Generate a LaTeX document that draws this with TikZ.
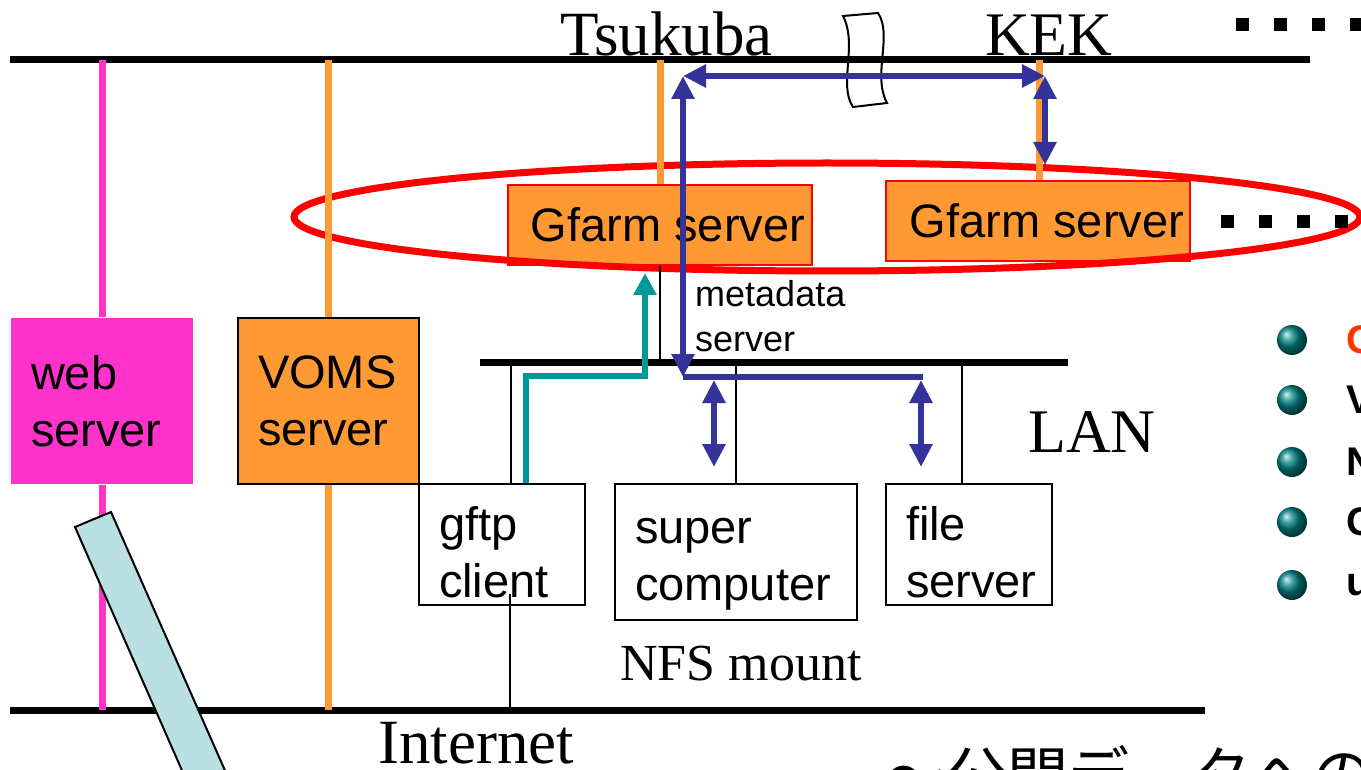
\documentclass[tikz,border=0pt]{standalone}
\usepackage{fontspec}
\setmainfont{Liberation Serif}
\setsansfont{Liberation Sans}
\newfontfamily\jpfont{Noto Sans CJK JP}
\usetikzlibrary{arrows.meta,positioning}
\definecolor{webpink}{HTML}{FF33CC}
\definecolor{vomsorange}{HTML}{FF9933}
\definecolor{gfblue}{HTML}{333399}
\definecolor{gfteal}{HTML}{009999}
\definecolor{barcyan}{HTML}{BBE0E3}
\definecolor{bulred}{HTML}{FF3300}
\newcommand{\boxfont}{\sffamily\fontsize{47}{57}\selectfont}
\newcommand{\serifsize}[1]{\rmfamily\fontsize{#1}{#1}\selectfont}

\begin{document}
\begin{tikzpicture}[x=1pt,y=-1pt,
		bus/.style={line width=7pt},
		drop/.style={line width=2.5pt},
		pinkln/.style={webpink,line width=7pt},
		orln/.style={vomsorange,line width=7pt},
		blln/.style={gfblue,line width=6pt},
		blarr/.style={blln,>={Triangle[length=23pt,width=22pt]},<->},
		tlarr/.style={gfteal,line width=6pt,>={Triangle[length=22pt,width=22pt]},->},
		host/.style={draw,line width=2pt,fill=white,align=left,inner xsep=20pt,inner ysep=0pt,anchor=north west,font=\boxfont},
		lowbox/.style={execute at begin node={\rule{0pt}{50pt}}},
		gfarm/.style={draw=red,line width=1.2pt,fill=vomsorange,minimum width=304pt,minimum height=80pt,inner sep=0pt,font=\boxfont},
		lbl/.style={inner sep=0pt,anchor=base west},
		bul/.style={inner sep=0pt,anchor=west,font=\sffamily\bfseries\fontsize{40}{40}\selectfont}]
		\path[use as bounding box] (0,0) rectangle (1361,770);
		\clip (0,0) rectangle (1361,770);

		\coordinate (topL) at (10,60);
		\coordinate (topR) at (1310,60);
		\coordinate (netL) at (10,710);
		\coordinate (netR) at (1205,710);
		\coordinate (lanL) at (480,362);
		\coordinate (lanR) at (1068,362);
		\draw[bus] (topL) -- (topR);
		\draw[bus] (netL) -- (netR);
		\draw[bus] (lanL) -- (lanR);

		\node[host,draw=none,fill=webpink,text width=142pt,minimum height=166pt] (web) at (10,317) {web\\server};
		\node[host,fill=vomsorange,text width=141pt,minimum height=166pt] (voms) at (237,317) {VOMS\\server};
		\node[gfarm] (gsT) at (660,225) {\hspace*{16pt}Gfarm server};
		\node[gfarm] (gsK) at (1038,221) {\hspace*{18pt}Gfarm server};
		\node[host,lowbox,text width=126pt,minimum height=121pt] (gftp) at (418,483) {gftp\\client};
		\node[host,lowbox,text width=202pt,minimum height=136pt] (sc) [right=28pt of gftp.north east,anchor=north west] {super\\computer};
		\node[host,lowbox,text width=126pt,minimum height=121pt] (fs) [right=27pt of sc.north east,anchor=north west] {file\\server};

		\draw[red,line width=7pt] (827,217) ellipse [x radius=533pt,y radius=54pt];

		\draw[pinkln] (web.north) -- (web.north |- topL);
		\draw[pinkln] (web.south) -- (web.south |- netL);
		\draw[orln] (voms.north) -- (voms.north |- topL);
		\draw[orln] (voms.south) -- (voms.south |- netL);
		\draw[orln] (gsT.north) -- (gsT.north |- topL);
		\draw[orln] ([xshift=1.5pt]gsK.north) -- ([xshift=1.5pt]gsK.north |- topL);

		\draw[line width=2pt] (843,16) -- (878,13) .. controls (893,35) and (872,75) .. (887,103)
			-- (853,107) .. controls (838,85) and (858,45) .. cycle;

		\draw[drop] (gsT.south) -- (gsT.south |- lanL);
		\draw[drop] ([xshift=9pt]gftp.north) -- ([xshift=9pt]gftp.north |- lanL);
		\draw[drop] (sc.north) -- (sc.north |- lanL);
		\draw[drop] ([xshift=-7pt]fs.north) -- ([xshift=-7pt]fs.north |- lanL);
		\draw[drop] ([xshift=8pt,yshift=12pt]gftp.south) -- ([xshift=8pt]gftp.south |- netL);

		\coordinate (tlturn) at (645,376);
		\coordinate (tltip) at (645,273);
		\draw[tlarr] ([xshift=24pt]gftp.north) |- (tlturn) -- (tltip);

		\coordinate (tsuk) at (683,76);
		\coordinate (kek) at (1045,76);
		\coordinate (kekdn) at (1045,165);
		\coordinate (mdn) at (683,377);
		\coordinate (mdnR) at (923,377);
		\coordinate (scA) at (714,380);
		\coordinate (scB) at (714,467);
		\coordinate (fsA) at (921,380);
		\coordinate (fsB) at (921,467);
		\draw[blarr] (tsuk) -- (kek);
		\draw[blarr] (kek) -- (kekdn);
		\draw[blln] (mdn) -- (mdnR);
		\draw[blarr] (tsuk) -- (mdn);
		\draw[blarr] (scA) -- (scB);
		\draw[blarr] (fsA) -- (fsB);

		\filldraw[fill=barcyan,draw=black,line width=2pt] (75,527) -- (111,512) -- (238,800) -- (195,800) -- cycle;

		\node[lbl,font=\serifsize{63}] (tsukl) at (560,56) {Tsukuba};
		\node[lbl,font=\serifsize{62}] (kekl) at (985,56) {KEK};
		\node[lbl,font=\serifsize{62}] (lanl) at (1028,452) {LAN};
		\node[lbl,font=\serifsize{52}] (nfsl) at (620,680) {NFS mount};
		\node[lbl,font=\serifsize{63}] (netl) at (378,763) {Internet};
		\node[inner sep=0pt,anchor=north west,align=left,font=\sffamily\fontsize{36}{45}\selectfont] (mdl) at (695,280) {metadata\\server};

		\foreach \x in {1236,1274,1312,1350}
			\fill (\x,18) rectangle ++(13,13);
		\foreach \x in {1221,1259,1297,1335}
			\fill (\x,215) rectangle ++(13,13);

		\foreach \y/\t/\c in {340/G/bulred,400/V/black,462/N/black,522/G/black,585/u/black} {
			\shade[ball color=gfteal!85!black] (1292,\y) circle (15pt);
			\node[bul,text=\c] (b\y) at (1346,\y) {\t};
		}

		\node[lbl,font=\jpfont\fontsize{61}{61}\selectfont] (jp) at (885,797) {～公開データへの};
	\end{tikzpicture}
\end{document}
